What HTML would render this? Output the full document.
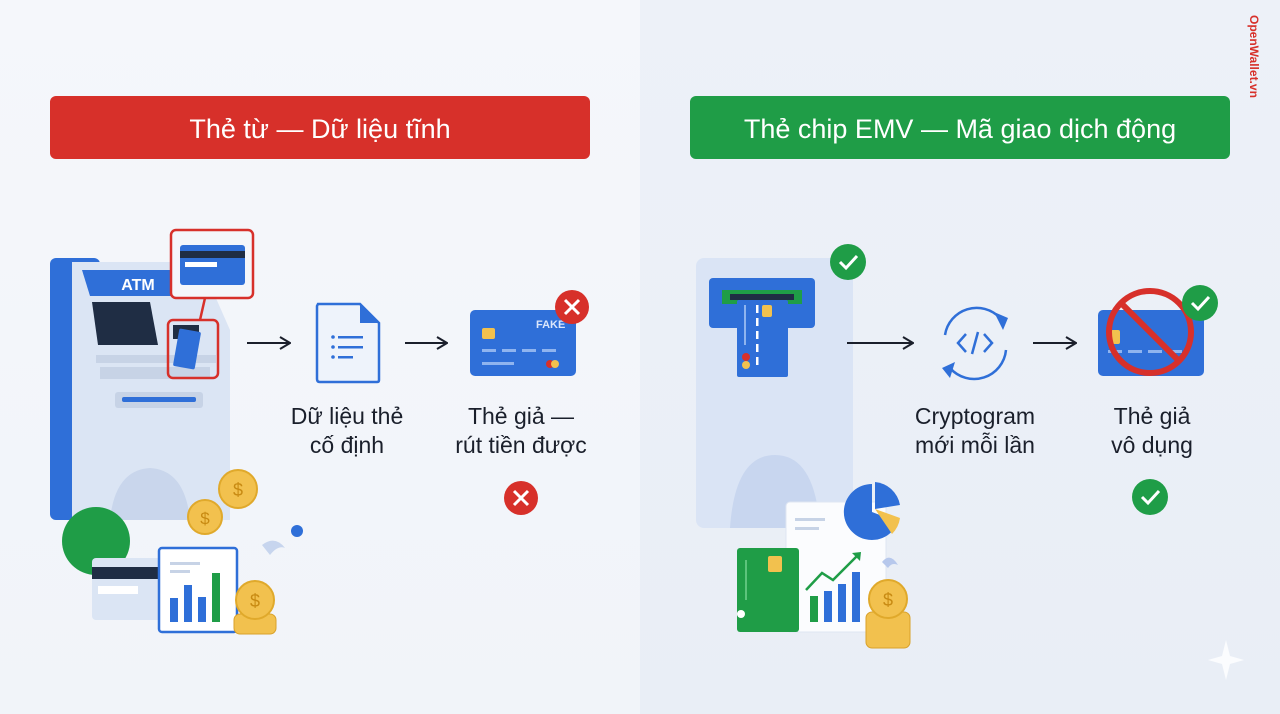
<!DOCTYPE html>
<html><head><meta charset="utf-8"><style>
html,body{margin:0;padding:0;width:1280px;height:714px;overflow:hidden;background:#eef2f8}
svg{display:block}
text{font-family:"Liberation Sans","DejaVu Sans",sans-serif}
</style></head><body>
<svg width="1280" height="714" viewBox="0 0 1280 714" xmlns="http://www.w3.org/2000/svg">
<defs>
<linearGradient id="lb" x1="0" y1="0" x2="0" y2="1"><stop offset="0" stop-color="#f5f7fb"/><stop offset="1" stop-color="#f1f4f9"/></linearGradient>
<linearGradient id="rb" x1="0" y1="0" x2="0" y2="1"><stop offset="0" stop-color="#edf1f8"/><stop offset="1" stop-color="#e9eef6"/></linearGradient>
<marker id="ar" markerWidth="12" markerHeight="14" refX="11" refY="7" orient="auto" markerUnits="userSpaceOnUse"><path d="M1 1 L11 7 L1 13" fill="none" stroke="#1a1f2b" stroke-width="2"/></marker>
</defs>
<rect x="0" y="0" width="640" height="714" fill="url(#lb)"/>
<rect x="640" y="0" width="640" height="714" fill="url(#rb)"/>

<rect x="50" y="96" width="540" height="63" rx="6" fill="#d7302a"/>
<text x="320" y="138" text-anchor="middle" font-size="27" fill="#fff">Thẻ từ — Dữ liệu tĩnh</text>
<rect x="690" y="96" width="540" height="63" rx="6" fill="#1f9d47"/>
<text x="960" y="138" text-anchor="middle" font-size="27" fill="#fff">Thẻ chip EMV — Mã giao dịch động</text>

<text transform="translate(1250,15) rotate(90)" font-size="12" font-weight="bold" fill="#d7302a">OpenWallet.vn</text>

<rect x="50" y="258" width="50" height="262" rx="6" fill="#2f6fd8"/>
<path d="M72 262 L200 262 L230 330 L230 520 L72 520 Z" fill="#dbe5f4"/>
<path d="M82 270 L195 270 L205 296 L90 296 Z" fill="#2f6fd8"/>
<text x="138" y="290" text-anchor="middle" font-size="16" font-weight="bold" fill="#fff">ATM</text>
<path d="M92 302 L150 302 L158 345 L98 345 Z" fill="#1f2d44"/>
<rect x="96" y="355" width="120" height="8" fill="#c7d3e6"/>
<rect x="100" y="367" width="110" height="12" fill="#c7d3e6"/>
<rect x="115" y="392" width="88" height="16" rx="3" fill="#c7d3e6"/>
<rect x="122" y="397" width="74" height="5" rx="2" fill="#2f6fd8"/>
<path d="M110 520 Q115 470 150 468 Q185 470 190 520 Z" fill="#c9d6ec"/>
<rect x="173" y="325" width="26" height="14" fill="#1f2d44"/>
<rect x="176" y="330" width="22" height="38" rx="2" fill="#2f6fd8" transform="rotate(10 187 349)"/>
<rect x="168" y="320" width="50" height="58" rx="5" fill="none" stroke="#d7302a" stroke-width="2.5"/>
<line x1="205" y1="298" x2="200" y2="320" stroke="#d7302a" stroke-width="2.5"/>
<rect x="171" y="230" width="82" height="68" rx="5" fill="#f4f6fa" stroke="#d7302a" stroke-width="2.5"/>
<rect x="180" y="245" width="65" height="40" rx="3" fill="#2f6fd8"/>
<rect x="180" y="251" width="65" height="7" fill="#1f2d44"/>
<rect x="185" y="262" width="32" height="5" fill="#fff"/>

<line x1="247" y1="343" x2="290" y2="343" stroke="#1a1f2b" stroke-width="2" marker-end="url(#ar)"/>

<path d="M318 304 L360 304 L379 323 L379 380 Q379 382 377 382 L320 382 Q317 382 317 379 L317 306 Z" fill="#eef3fb" stroke="#2f6fd8" stroke-width="2.5"/>
<path d="M360 304 L360 323 L379 323 Z" fill="#2f6fd8"/>
<g fill="#2f6fd8"><circle cx="333" cy="337" r="1.8"/><circle cx="333" cy="347" r="1.8"/><circle cx="333" cy="357" r="1.8"/>
<rect x="338" y="336" width="25" height="2.5"/><rect x="338" y="346" width="25" height="2.5"/><rect x="338" y="356" width="15" height="2.5"/></g>

<line x1="405" y1="343" x2="447" y2="343" stroke="#1a1f2b" stroke-width="2" marker-end="url(#ar)"/>

<rect x="470" y="310" width="106" height="66" rx="5" fill="#2f6fd8"/>
<text x="536" y="328" font-size="11" font-weight="bold" fill="#dbe6fb">FAKE</text>
<rect x="482" y="328" width="13" height="11" rx="2" fill="#f2c14e"/>
<g fill="#8fb4ef"><rect x="482" y="349" width="14" height="3"/><rect x="502" y="349" width="14" height="3"/><rect x="522" y="349" width="14" height="3"/><rect x="542" y="349" width="14" height="3"/><rect x="482" y="362" width="32" height="3"/></g>
<circle cx="550" cy="364" r="4" fill="#d7302a"/><circle cx="555" cy="364" r="4" fill="#f2c14e"/>
<circle cx="572" cy="307" r="17" fill="#d7302a"/>
<path d="M565 300 L579 314 M579 300 L565 314" stroke="#fff" stroke-width="3"/>

<g font-size="23" fill="#1a1f2b" text-anchor="middle">
<text x="347" y="424">Dữ liệu thẻ</text><text x="347" y="453">cố định</text>
<text x="521" y="424">Thẻ giả —</text><text x="521" y="453">rút tiền được</text>
<text x="975" y="424">Cryptogram</text><text x="975" y="453">mới mỗi lần</text>
<text x="1152" y="424">Thẻ giả</text><text x="1152" y="453">vô dụng</text>
</g>

<circle cx="521" cy="498" r="17" fill="#d7302a"/>
<path d="M514 491 L528 505 M528 491 L514 505" stroke="#fff" stroke-width="3"/>

<circle cx="96" cy="541" r="34" fill="#1f9d47"/>
<rect x="92" y="558" width="70" height="62" rx="4" fill="#dbe5f4"/>
<rect x="92" y="567" width="70" height="12" fill="#1f2d44"/>
<rect x="98" y="586" width="40" height="8" fill="#fff"/>
<rect x="159" y="548" width="78" height="84" rx="3" fill="#fff" stroke="#2f6fd8" stroke-width="2.5"/>
<rect x="170" y="562" width="30" height="3" fill="#c7d3e6"/><rect x="170" y="570" width="20" height="3" fill="#c7d3e6"/>
<rect x="170" y="598" width="8" height="24" fill="#2f6fd8"/><rect x="184" y="585" width="8" height="37" fill="#2f6fd8"/><rect x="198" y="597" width="8" height="25" fill="#2f6fd8"/><rect x="212" y="573" width="8" height="49" fill="#1f9d47"/>
<circle cx="238" cy="489" r="19" fill="#f2c14e" stroke="#e0a92b" stroke-width="2"/><text x="238" y="496" text-anchor="middle" font-size="18" fill="#c88a12">$</text>
<circle cx="205" cy="517" r="17" fill="#f2c14e" stroke="#e0a92b" stroke-width="2"/><text x="205" y="524" text-anchor="middle" font-size="17" fill="#c88a12">$</text>
<rect x="234" y="614" width="42" height="20" rx="6" fill="#f2c14e" stroke="#d9a12a"/>
<circle cx="255" cy="600" r="19" fill="#f2c14e" stroke="#e0a92b" stroke-width="2"/><text x="255" y="607" text-anchor="middle" font-size="18" fill="#c88a12">$</text>
<circle cx="297" cy="531" r="6" fill="#2f6fd8"/>
<path d="M262 545 Q275 535 285 548 Q278 545 270 555 Z" fill="#c7d5ee"/>

<rect x="696" y="258" width="157" height="270" rx="8" fill="#dae4f5"/>
<path d="M730 528 Q735 455 775 455 Q815 455 820 528 Z" fill="#c8d6ef"/>
<circle cx="848" cy="262" r="18" fill="#1f9d47"/>
<path d="M840 262 L846 268 L857 256" stroke="#fff" stroke-width="3" fill="none"/>
<rect x="709" y="278" width="106" height="50" rx="4" fill="#2f6fd8"/>
<rect x="722" y="290" width="80" height="14" fill="#1f9d47"/>
<rect x="730" y="294" width="64" height="6" fill="#1f2d44"/>
<rect x="737" y="300" width="51" height="77" rx="2" fill="#2f6fd8"/>
<rect x="744" y="305" width="2" height="40" fill="#8fb4ef"/>
<g fill="#fff"><rect x="756" y="305" width="2.5" height="8"/><rect x="756" y="318" width="2.5" height="8"/><rect x="756" y="331" width="2.5" height="8"/><rect x="756" y="344" width="2.5" height="8"/><rect x="756" y="357" width="2.5" height="8"/></g>
<rect x="762" y="305" width="10" height="12" rx="2" fill="#f2c14e"/>
<circle cx="746" cy="357" r="4" fill="#d7302a"/><circle cx="746" cy="365" r="4" fill="#f2c14e"/>

<line x1="847" y1="343" x2="913" y2="343" stroke="#1a1f2b" stroke-width="2" marker-end="url(#ar)"/>
<path d="M945 335 A32 32 0 0 1 1000 318" fill="none" stroke="#2f6fd8" stroke-width="2.5"/>
<path d="M1006 350 A32 32 0 0 1 950 368" fill="none" stroke="#2f6fd8" stroke-width="2.5"/>
<path d="M994 312 L1008 318 L1003 330 Z" fill="#2f6fd8"/>
<path d="M955 362 L942 368 L950 378 Z" fill="#2f6fd8"/>
<path d="M966 334 L958 343 L966 352 M984 334 L992 343 L984 352 M978 332 L972 354" stroke="#2f6fd8" stroke-width="2.5" fill="none"/>

<line x1="1033" y1="343" x2="1076" y2="343" stroke="#1a1f2b" stroke-width="2" marker-end="url(#ar)"/>
<rect x="1098" y="310" width="106" height="66" rx="5" fill="#2f6fd8"/>
<rect x="1108" y="330" width="12" height="14" rx="2" fill="#f2c14e"/>
<g fill="#8fb4ef"><rect x="1108" y="350" width="14" height="3"/><rect x="1128" y="350" width="14" height="3"/><rect x="1148" y="350" width="14" height="3"/><rect x="1168" y="350" width="14" height="3"/></g>
<circle cx="1150" cy="332" r="41" fill="none" stroke="#d7302a" stroke-width="6"/>
<line x1="1121" y1="303" x2="1179" y2="361" stroke="#d7302a" stroke-width="6"/>
<circle cx="1200" cy="303" r="18" fill="#1f9d47"/>
<path d="M1192 303 L1198 309 L1209 297" stroke="#fff" stroke-width="3" fill="none"/>
<circle cx="1150" cy="497" r="18" fill="#1f9d47"/>
<path d="M1142 497 L1148 503 L1159 491" stroke="#fff" stroke-width="3" fill="none"/>

<rect x="786" y="502" width="100" height="130" rx="4" fill="#fbfcfe" stroke="#dfe6f2"/>
<rect x="795" y="518" width="30" height="3" fill="#c7d3e6"/><rect x="795" y="527" width="24" height="3" fill="#c7d3e6"/>
<path d="M872 512 L872 484 A28 28 0 1 0 898 522 Z" fill="#2f6fd8"/>
<path d="M875 509 L900 518 A28 28 0 0 1 892 534 Z" fill="#f2c14e"/>
<path d="M875 509 L875 482 A28 28 0 0 1 900 505 Z" fill="#2f6fd8"/>
<rect x="737" y="548" width="62" height="84" rx="3" fill="#1f9d47"/>
<rect x="768" y="556" width="14" height="16" rx="2" fill="#f2c14e"/>
<rect x="745" y="560" width="2" height="40" fill="#5cc47c"/>
<circle cx="741" cy="614" r="4" fill="#fff"/>
<rect x="810" y="596" width="8" height="26" fill="#1f9d47"/><rect x="824" y="591" width="8" height="31" fill="#2f6fd8"/><rect x="838" y="584" width="8" height="38" fill="#2f6fd8"/><rect x="852" y="572" width="8" height="50" fill="#2f6fd8"/>
<path d="M806 590 L822 573 L833 580 L858 555" stroke="#1f9d47" stroke-width="2.5" fill="none"/>
<path d="M852 553 L861 552 L860 561 Z" fill="#1f9d47"/>
<rect x="866" y="612" width="44" height="36" rx="6" fill="#f2c14e" stroke="#d9a12a"/>
<circle cx="888" cy="599" r="19" fill="#f2c14e" stroke="#e0a92b" stroke-width="2"/><text x="888" y="606" text-anchor="middle" font-size="18" fill="#c88a12">$</text>
<path d="M882 562 Q890 552 898 565 Q892 562 888 568 Z" fill="#b7c8ec"/>
<path d="M1226 640 L1230 656 L1244 660 L1230 664 L1226 680 L1222 664 L1208 660 L1222 656 Z" fill="#fbfcfe"/>
</svg>
</body></html>
